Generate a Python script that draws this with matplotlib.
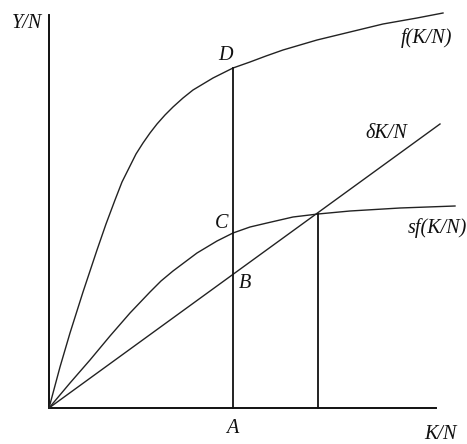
import matplotlib
matplotlib.use("Agg")
from matplotlib import pyplot as plt

# 数据点 (K/N, Y/N)
f_k = [0, 0.11, 0.21, 0.34, 0.48, 0.57, 0.66, 0.73, 0.81, 0.87, 0.94, 1.01, 1.08, 1.16, 1.24, 1.34, 1.44, 1.54, 1.64, 1.74,
       1.84, 2.01, 2.17, 2.34, 2.51, 2.68, 3.01, 3.34, 3.68, 3.94]
f_y = [0, 0.41, 0.75, 1.16, 1.58, 1.84, 2.08, 2.26, 2.42, 2.54, 2.65, 2.75, 2.84, 2.93, 3.01, 3.10, 3.18, 3.24, 3.30, 3.35,
       3.40, 3.46, 3.52, 3.58, 3.63, 3.68, 3.76, 3.84, 3.90, 3.95]

sf_k = [0, 0.21, 0.41, 0.61, 0.81, 1.01, 1.12, 1.24, 1.36, 1.48, 1.58, 1.68, 1.84, 2.01, 2.18, 2.44, 2.69, 3.01, 3.51, 4.06]
sf_y = [0, 0.25, 0.48, 0.72, 0.95, 1.16, 1.27, 1.37, 1.46, 1.55, 1.61, 1.67, 1.75, 1.81, 1.85, 1.91, 1.94, 1.97, 2.00, 2.02]

dep_k = [0, 3.91]
dep_y = [0, 2.84]

k_a = 1.84      # 点A
k_star = 2.69   # 稳态
y_d = 3.40
y_star = 1.94

x_max = 3.87
y_max = 3.93

# 设置字体
font = dict(family="Liberation Serif", style="italic", size=14.5, color="#111111")

fig = plt.figure(figsize=(4.67, 4.44), dpi=100)
ax = fig.add_axes([0, 0, 1, 1])
ax.set_xlim(-0.49, 4.18)
ax.set_ylim(-0.36, 4.08)
ax.axis("off")

# 坐标轴
ax.plot([0, 0], [0, y_max], color="#111111", lw=1.4)
ax.plot([0, x_max], [0, 0], color="#111111", lw=1.4)

# 曲线
ax.plot(f_k, f_y, color="#222222", lw=1.0)
ax.plot(sf_k, sf_y, color="#222222", lw=1.0)
ax.plot(dep_k, dep_y, color="#222222", lw=1.0)

# 竖线
ax.plot([k_a, k_a], [0, y_d], color="#111111", lw=1.3)
ax.plot([k_star, k_star], [0, y_star], color="#111111", lw=1.3)

# 文字
ax.text(-0.22, 3.85, "Y/N", ha="center", va="center", **font)
ax.text(3.91, -0.26, "K/N", ha="center", va="center", **font)
ax.text(1.76, 3.53, "D", ha="center", va="center", **font)
ax.text(1.73, 1.85, "C", ha="center", va="center", **font)
ax.text(1.96, 1.25, "B", ha="center", va="center", **font)
ax.text(1.83, -0.20, "A", ha="center", va="center", **font)
ax.text(3.78, 3.70, "f(K/N)", ha="center", va="center", **font)
ax.text(3.37, 2.75, "δK/N", ha="center", va="center", **font)
ax.text(3.88, 1.80, "sf(K/N)", ha="center", va="center", **font)

plt.savefig("out.png", dpi=100)
